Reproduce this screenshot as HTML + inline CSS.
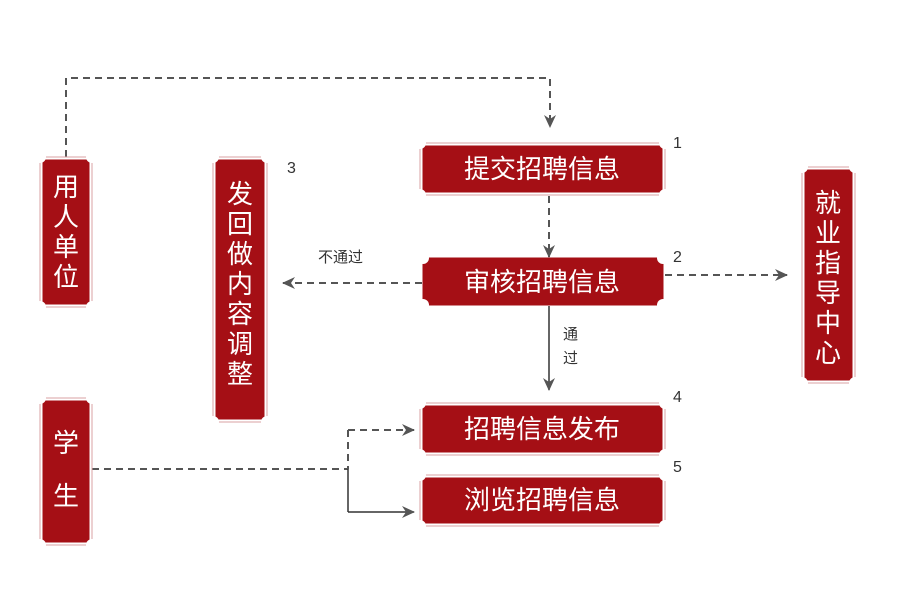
<!DOCTYPE html>
<html><head><meta charset="utf-8"><style>
html,body{margin:0;padding:0;background:#fff;}
svg{display:block;}
.b{fill:#a50f15;stroke:#a50f15;stroke-width:1;}
.o{fill:none;stroke:#d9a0a3;stroke-width:1;}
.c{fill:#fff;}
.t{font-family:"Liberation Sans","Noto Sans CJK SC",sans-serif;fill:#fff;font-size:26px;}
.n{font-family:"Liberation Sans",sans-serif;fill:#333;font-size:16px;}
.l{font-family:"Liberation Sans","Noto Sans CJK SC",sans-serif;fill:#333;font-size:15px;}
.d{stroke:#555;stroke-width:2;fill:none;stroke-dasharray:7,5;}
.s{stroke:#333;stroke-width:1.5;fill:none;}
</style></head><body>
<svg width="900" height="610" viewBox="0 0 900 610">
<defs>
<marker id="a" markerWidth="14" markerHeight="14" refX="12" refY="6" orient="auto" markerUnits="userSpaceOnUse"><path d="M0,0 L13,6 L0,12 L4,6 z" fill="#555"/></marker>
</defs>
<path class="d" d="M66,157 V78 H550 V127" marker-end="url(#a)"/>
<path class="d" d="M549,196 V257" marker-end="url(#a)"/>
<path class="d" d="M422,283 H283" marker-end="url(#a)"/>
<path class="d" d="M665,275 H787" marker-end="url(#a)"/>
<path class="s" d="M549,306 V390" marker-end="url(#a)"/>
<path class="d" d="M92,469 H348"/>
<path class="d" d="M348,430 V469"/>
<path class="s" d="M348,469 V512"/>
<path class="d" d="M348,430 H414" marker-end="url(#a)"/>
<path class="s" d="M348,512 H414" marker-end="url(#a)"/>
<text class="l" x="318" y="262">不通过</text>
<text class="l" x="563" y="339">通</text>
<text class="l" x="563" y="363">过</text>
<g>
<rect class="o" x="40" y="157" width="52" height="150"/><rect class="b" x="43" y="160" width="46" height="144"/>
<circle class="c" cx="40" cy="157" r="6"/><circle class="c" cx="92" cy="157" r="6"/><circle class="c" cx="40" cy="307" r="6"/><circle class="c" cx="92" cy="307" r="6"/>
<text class="t" x="66" y="196" text-anchor="middle">用</text><text class="t" x="66" y="226" text-anchor="middle">人</text><text class="t" x="66" y="256" text-anchor="middle">单</text><text class="t" x="66" y="286" text-anchor="middle">位</text>
</g>
<g>
<rect class="o" x="213" y="157" width="54" height="265"/><rect class="b" x="216" y="160" width="48" height="259"/>
<circle class="c" cx="213" cy="157" r="6"/><circle class="c" cx="267" cy="157" r="6"/><circle class="c" cx="213" cy="422" r="6"/><circle class="c" cx="267" cy="422" r="6"/>
<text class="t" x="240" y="203" text-anchor="middle">发</text><text class="t" x="240" y="233" text-anchor="middle">回</text><text class="t" x="240" y="263" text-anchor="middle">做</text><text class="t" x="240" y="293" text-anchor="middle">内</text><text class="t" x="240" y="323" text-anchor="middle">容</text><text class="t" x="240" y="353" text-anchor="middle">调</text><text class="t" x="240" y="383" text-anchor="middle">整</text>
</g>
<text class="n" x="287" y="173">3</text>
<g>
<rect class="o" x="802" y="167" width="53" height="216"/><rect class="b" x="805" y="170" width="47" height="210"/>
<circle class="c" cx="802" cy="167" r="6"/><circle class="c" cx="855" cy="167" r="6"/><circle class="c" cx="802" cy="383" r="6"/><circle class="c" cx="855" cy="383" r="6"/>
<text class="t" x="828" y="212" text-anchor="middle">就</text><text class="t" x="828" y="242" text-anchor="middle">业</text><text class="t" x="828" y="272" text-anchor="middle">指</text><text class="t" x="828" y="302" text-anchor="middle">导</text><text class="t" x="828" y="332" text-anchor="middle">中</text><text class="t" x="828" y="362" text-anchor="middle">心</text>
</g>
<g>
<rect class="o" x="40" y="398" width="52" height="147"/><rect class="b" x="43" y="401" width="46" height="141"/>
<circle class="c" cx="40" cy="398" r="6"/><circle class="c" cx="92" cy="398" r="6"/><circle class="c" cx="40" cy="545" r="6"/><circle class="c" cx="92" cy="545" r="6"/>
<text class="t" x="66" y="452" text-anchor="middle">学</text><text class="t" x="66" y="505" text-anchor="middle">生</text>
</g>
<g>
<rect class="o" x="420" y="143" width="245" height="52"/><rect class="b" x="423" y="146" width="239" height="46"/>
<circle class="c" cx="420" cy="143" r="6"/><circle class="c" cx="665" cy="143" r="6"/><circle class="c" cx="420" cy="195" r="6"/><circle class="c" cx="665" cy="195" r="6"/>
<text class="t" x="542" y="178" text-anchor="middle">提交招聘信息</text>
</g>
<text class="n" x="673" y="148">1</text>
<g>
<rect class="b" x="423" y="258" width="240" height="47"/>
<circle class="c" cx="423" cy="258" r="6"/><circle class="c" cx="663" cy="258" r="6"/><circle class="c" cx="423" cy="305" r="6"/><circle class="c" cx="663" cy="305" r="6"/>
<text class="t" x="542" y="291" text-anchor="middle">审核招聘信息</text>
</g>
<text class="n" x="673" y="262">2</text>
<g>
<rect class="o" x="420" y="403" width="245" height="52"/><rect class="b" x="423" y="406" width="239" height="46"/>
<circle class="c" cx="420" cy="403" r="6"/><circle class="c" cx="665" cy="403" r="6"/><circle class="c" cx="420" cy="455" r="6"/><circle class="c" cx="665" cy="455" r="6"/>
<text class="t" x="542" y="438" text-anchor="middle">招聘信息发布</text>
</g>
<text class="n" x="673" y="402">4</text>
<g>
<rect class="o" x="420" y="475" width="245" height="51"/><rect class="b" x="423" y="478" width="239" height="45"/>
<circle class="c" cx="420" cy="475" r="6"/><circle class="c" cx="665" cy="475" r="6"/><circle class="c" cx="420" cy="526" r="6"/><circle class="c" cx="665" cy="526" r="6"/>
<text class="t" x="542" y="509" text-anchor="middle">浏览招聘信息</text>
</g>
<text class="n" x="673" y="472">5</text>
</svg>
</body></html>
